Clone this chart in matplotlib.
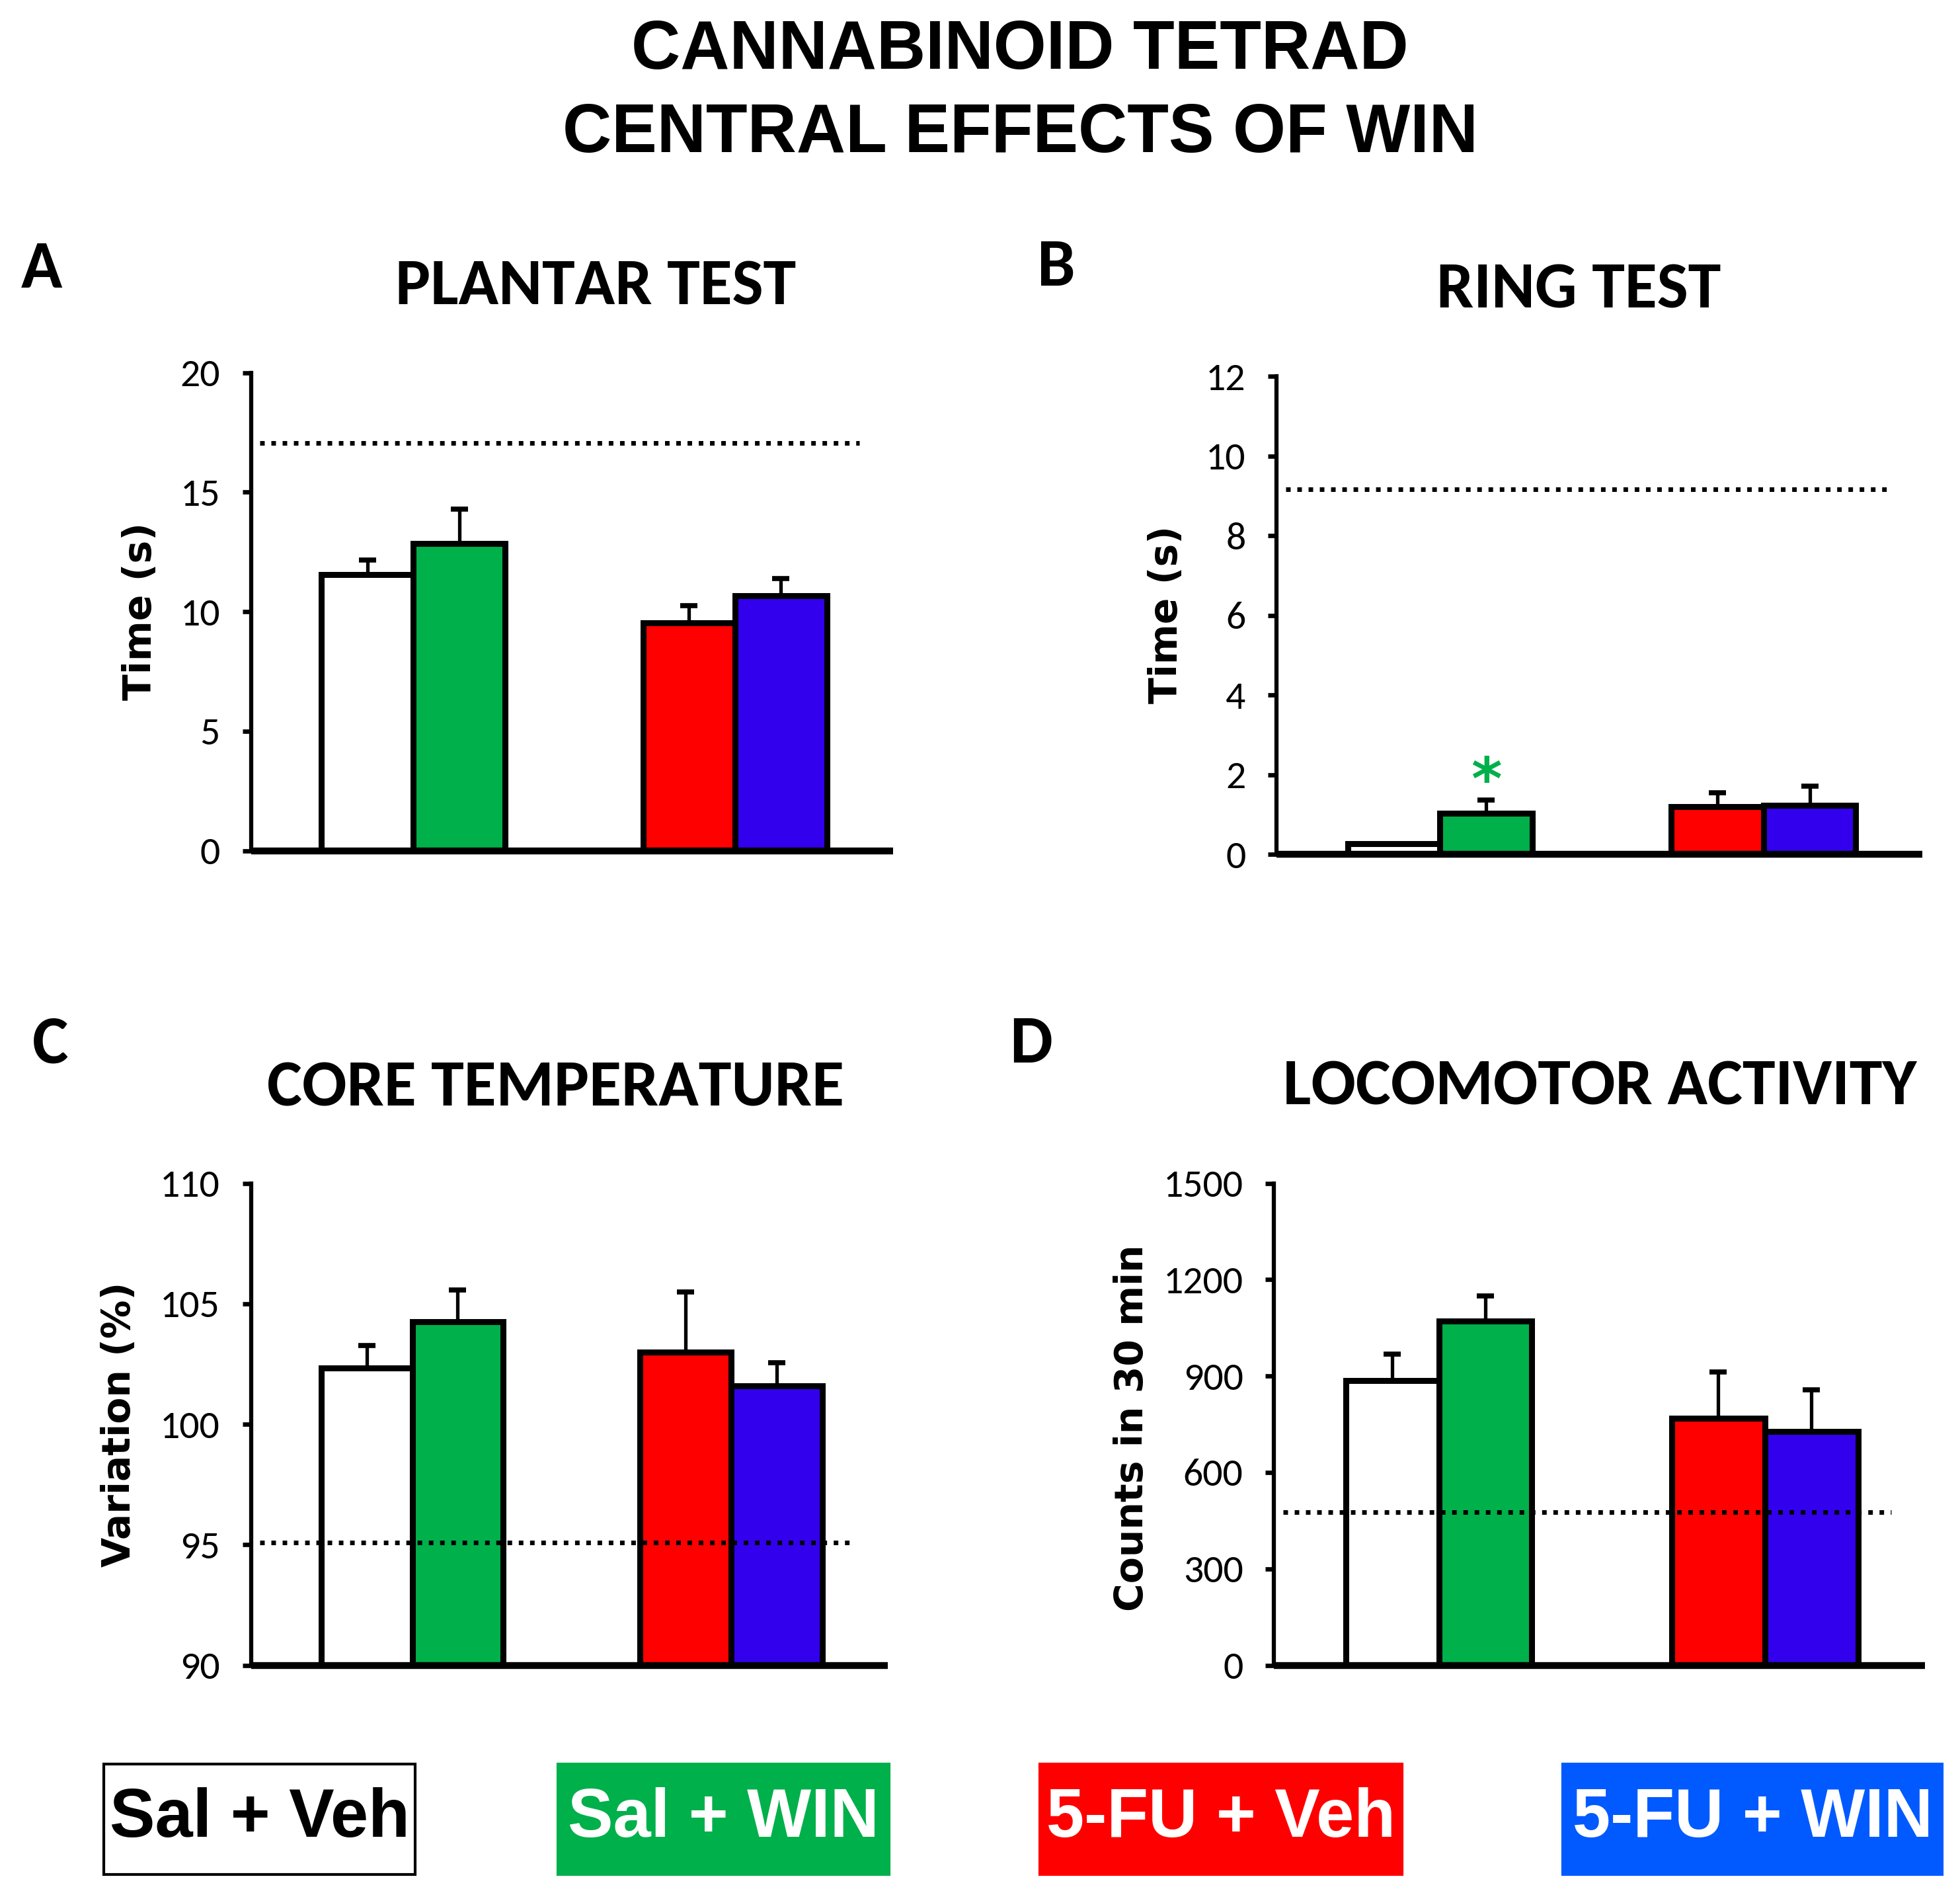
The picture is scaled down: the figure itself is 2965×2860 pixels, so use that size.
import matplotlib
matplotlib.use('Agg')
import matplotlib.pyplot as plt
from matplotlib import font_manager
from matplotlib.patches import Rectangle

# ---------------- data ----------------
groups = ['Sal + Veh', 'Sal + WIN', '5-FU + Veh', '5-FU + WIN']
bar_colors = ['#FFFFFF', '#00B04A', '#FF0000', '#3300EE']
legend_colors = ['#FFFFFF', '#00B04A', '#FF0000', '#005AFF']
legend_text_colors = ['#000000', '#FFFFFF', '#FFFFFF', '#FFFFFF']

panel_letters = ['A', 'B', 'C', 'D']
panel_titles = ['PLANTAR TEST', 'RING TEST', 'CORE TEMPERATURE', 'LOCOMOTOR ACTIVITY']
y_labels = ['Time (s)', 'Time (s)', 'Variation (%)', 'Counts in 30 min']

plantar_mean = [11.55, 12.85, 9.53, 10.66]
plantar_sem = [0.60, 1.43, 0.73, 0.74]
plantar_baseline = 17.05

ring_mean = [0.28, 1.04, 1.21, 1.24]
ring_sem = [0.0, 0.33, 0.34, 0.48]
ring_baseline = 9.17

temp_mean = [102.34, 104.25, 102.99, 101.59]
temp_sem = [0.93, 1.32, 2.50, 0.97]
temp_baseline = 95.1

loco_mean = [886, 1071, 769, 728]
loco_sem = [82, 78, 143, 128]
loco_baseline = 476

plantar_ticks = [0, 5, 10, 15, 20]
ring_ticks = [0, 2, 4, 6, 8, 10, 12]
temp_ticks = [90, 95, 100, 105, 110]
loco_ticks = [0, 300, 600, 900, 1200, 1500]

# ---------------- fonts ----------------
avail = {f.name for f in font_manager.fontManager.ttflist}
def pick(names):
    for n in names:
        if n in avail:
            return n
    return 'DejaVu Sans'

F_ARIAL = pick(['Liberation Sans', 'Arial'])
F_CAL = pick(['Carlito', 'Lato', 'Open Sans'])
F_VERD = 'DejaVu Sans'

# ---------------- figure ----------------
W, H = 2965, 2860
fig = plt.figure(figsize=(W / 100, H / 100), dpi=100)
fig.patch.set_facecolor('white')

fig.text(0.5205, 0.9728, 'CANNABINOID TETRAD', ha='center', va='center',
         fontsize=74, fontweight='bold', family=F_ARIAL)
fig.text(0.5205, 0.9290, 'CENTRAL EFFECTS OF WIN', ha='center', va='center',
         fontsize=74, fontweight='bold', family=F_ARIAL)

axes_rects = [
    [0.1280, 0.5501, 0.3275, 0.2528],
    [0.6513, 0.5481, 0.3295, 0.2528],
    [0.1280, 0.1194, 0.3250, 0.2549],
    [0.6500, 0.1194, 0.3321, 0.2549],
]
letter_pos = [(0.0211, 0.858), (0.539, 0.859), (0.0256, 0.448), (0.526, 0.448)]
title_pos = [(0.3039, 0.8487), (0.8055, 0.8467), (0.2834, 0.4247), (0.8164, 0.4254)]
ylabel_pos = [(0.0717, 0.6768), (0.595, 0.6749), (0.0608, 0.2468), (0.5777, 0.2449)]

means = [plantar_mean, ring_mean, temp_mean, loco_mean]
sems = [plantar_sem, ring_sem, temp_sem, loco_sem]
baselines = [plantar_baseline, ring_baseline, temp_baseline, loco_baseline]
ticks = [plantar_ticks, ring_ticks, temp_ticks, loco_ticks]

xpos = [0, 1, 3.5, 4.5]

for i in range(4):
    ax = fig.add_axes(axes_rects[i])
    ymin, ymax = ticks[i][0], ticks[i][-1]
    m = means[i]
    s = sems[i]
    bottoms = [ymin] * 4
    heights = [v - ymin for v in m]
    # error bars (upper only), behind bars
    ex = [x for x, e in zip(xpos, s) if e > 0]
    ey = [v for v, e in zip(m, s) if e > 0]
    ee = [e for e in s if e > 0]
    ax.errorbar(ex, ey, yerr=[[0] * len(ee), ee], fmt='none', ecolor='black',
                elinewidth=3.8, capsize=9.5, capthick=5.5, zorder=1)
    ax.bar(xpos, heights, bottom=bottoms, width=1.0, color=bar_colors,
           edgecolor='black', linewidth=6.5, zorder=2)
    ax.axhline(baselines[i], xmin=0.014, xmax=0.948, color='black', lw=5,
               linestyle=(0, (1.0, 1.45)), dash_capstyle='butt', zorder=5)
    ax.set_xlim(-1.27, 5.72)
    ax.set_ylim(ymin, ymax)
    ax.set_yticks(ticks[i])
    ax.set_xticks([])
    for sp in ['top', 'right']:
        ax.spines[sp].set_visible(False)
    ax.spines['left'].set_linewidth(4.5)
    ax.spines['bottom'].set_linewidth(7.5)
    ax.spines['bottom'].set_capstyle('butt')
    ax.tick_params(axis='y', direction='out', length=9.6, width=4.8, pad=24,
                   labelsize=43)
    for lab in ax.get_yticklabels():
        lab.set_family(F_CAL)
    ax.patch.set_alpha(0)

    fig.text(letter_pos[i][0], letter_pos[i][1], panel_letters[i], ha='center',
             va='center', fontsize=74, fontweight='bold', family=F_CAL)
    fig.text(title_pos[i][0], title_pos[i][1], panel_titles[i], ha='center',
             va='center', fontsize=72, fontweight='bold', family=F_CAL)
    fig.text(ylabel_pos[i][0], ylabel_pos[i][1], y_labels[i], ha='center',
             va='center', rotation=90, fontsize=42, fontweight='bold', family=F_VERD)

    if i == 1:
        ax.text(xpos[1], 1.38, '*', color='#00B04A', ha='center', va='baseline',
                fontsize=64, fontweight='bold', family=F_VERD)

# legend boxes
box_x = [(0.0531, 0.2118), (0.2847, 0.4536), (0.5304, 0.7153), (0.7972, 0.9910)]
by0, by1 = 0.0086, 0.067
for (x0, x1), fc, tc, g in zip(box_x, legend_colors, legend_text_colors, groups):
    ec = 'black' if fc == '#FFFFFF' else fc
    r = Rectangle((x0, by0), x1 - x0, by1 - by0, transform=fig.transFigure,
                  facecolor=fc, edgecolor=ec, linewidth=3)
    fig.add_artist(r)
    fig.text((x0 + x1) / 2, (by0 + by1) / 2, g, ha='center', va='center',
             color=tc, fontsize=74, fontweight='bold', family=F_ARIAL)

fig.savefig('out.png', dpi=100)
